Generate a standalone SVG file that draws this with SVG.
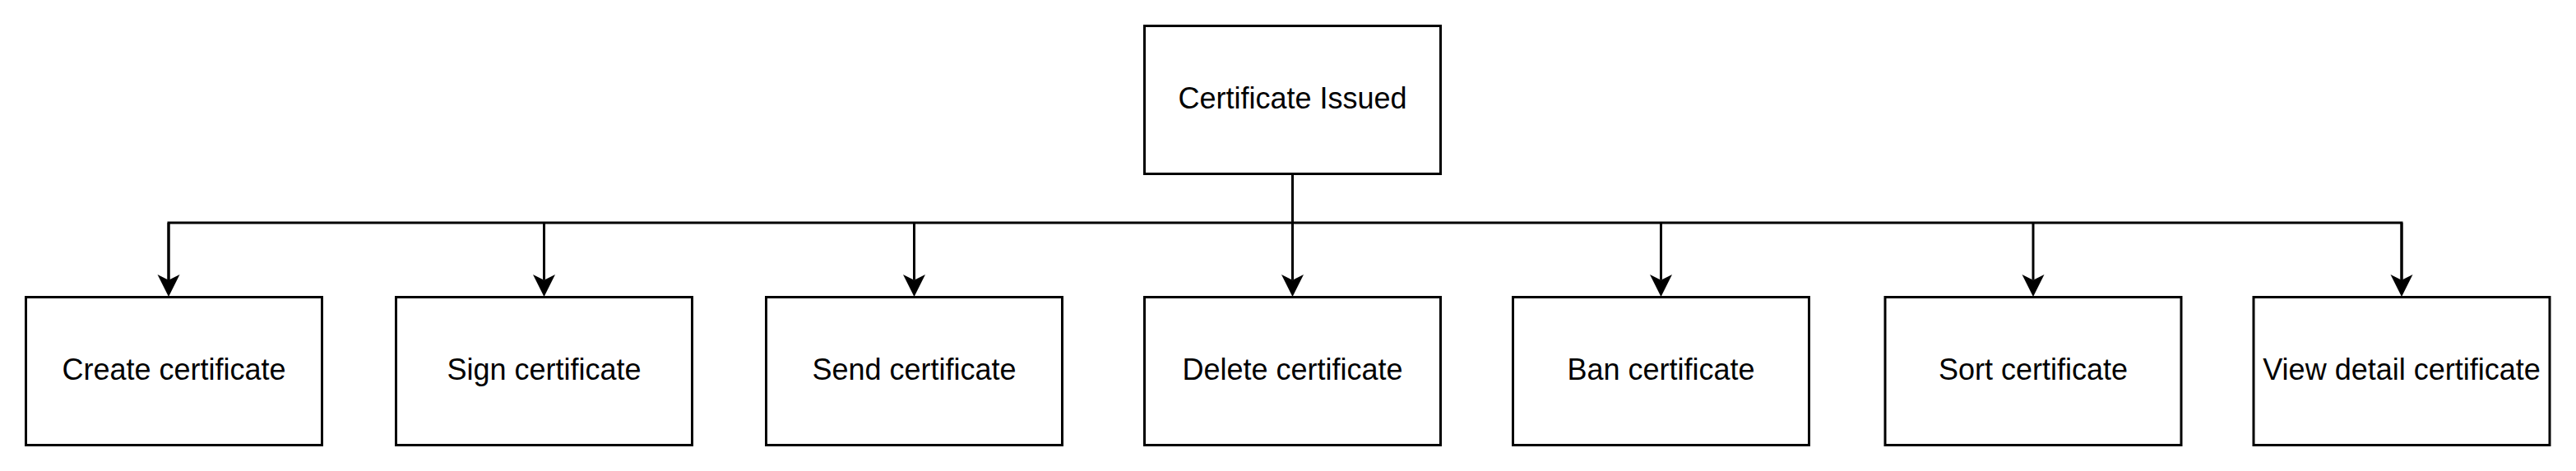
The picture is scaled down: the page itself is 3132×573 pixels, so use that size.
<svg xmlns="http://www.w3.org/2000/svg" width="3132" height="573" viewBox="0 0 3132 573">
  <style>
    .box { fill: #ffffff; stroke: #000000; stroke-width: 3; }
    .lbl { font-family: "Liberation Sans", Arial, Helvetica, sans-serif; font-size: 36px; fill: #000000; text-anchor: middle; }
    .wire { fill: none; stroke: #000000; stroke-width: 3; stroke-linejoin: miter; }
    .arrow { fill: none; stroke: #000000; stroke-width: 3; marker-end: url(#head); }
  </style>
  <defs>
    <marker id="head" markerUnits="userSpaceOnUse" viewBox="0 -15 30 30" markerWidth="30" markerHeight="30" refX="6.75" refY="0" orient="auto">
      <path d="M0,-13.5 L27,0 L0,13.5 L6.75,0 Z" fill="#000000"/>
    </marker>
  </defs>
  <rect x="0" y="0" width="3132" height="573" fill="#ffffff"/>

  <g id="connectors">
    <path class="wire" d="M205,340.75 V271 H2920 V340.75"/>
    <path class="arrow" d="M1571.5,211.5 V340.75"/>
    <path class="arrow" d="M205,271 V340.75"/>
    <path class="arrow" d="M661.5,271 V340.75"/>
    <path class="arrow" d="M1111.5,271 V340.75"/>
    <path class="arrow" d="M2019.5,271 V340.75"/>
    <path class="arrow" d="M2472,271 V340.75"/>
    <path class="arrow" d="M2920,271 V340.75"/>
  </g>

  <g id="certificate-issued">
    <rect class="box" x="1391.5" y="31.5" width="360" height="180"/>
    <text class="lbl" x="1571.5" y="132">Certificate Issued</text>
  </g>
  <g id="create-certificate">
    <rect class="box" x="31.5" y="361.5" width="360" height="180"/>
    <text class="lbl" x="211.5" y="462">Create certificate</text>
  </g>
  <g id="sign-certificate">
    <rect class="box" x="481.5" y="361.5" width="360" height="180"/>
    <text class="lbl" x="661.5" y="462">Sign certificate</text>
  </g>
  <g id="send-certificate">
    <rect class="box" x="931.5" y="361.5" width="360" height="180"/>
    <text class="lbl" x="1111.5" y="462">Send certificate</text>
  </g>
  <g id="delete-certificate">
    <rect class="box" x="1391.5" y="361.5" width="360" height="180"/>
    <text class="lbl" x="1571.5" y="462">Delete certificate</text>
  </g>
  <g id="ban-certificate">
    <rect class="box" x="1839.5" y="361.5" width="360" height="180"/>
    <text class="lbl" x="2019.5" y="462">Ban certificate</text>
  </g>
  <g id="sort-certificate">
    <rect class="box" x="2292" y="361.5" width="360" height="180"/>
    <text class="lbl" x="2472" y="462">Sort certificate</text>
  </g>
  <g id="view-detail-certificate">
    <rect class="box" x="2740" y="361.5" width="360" height="180"/>
    <text class="lbl" x="2920" y="462">View detail certificate</text>
  </g>
</svg>
